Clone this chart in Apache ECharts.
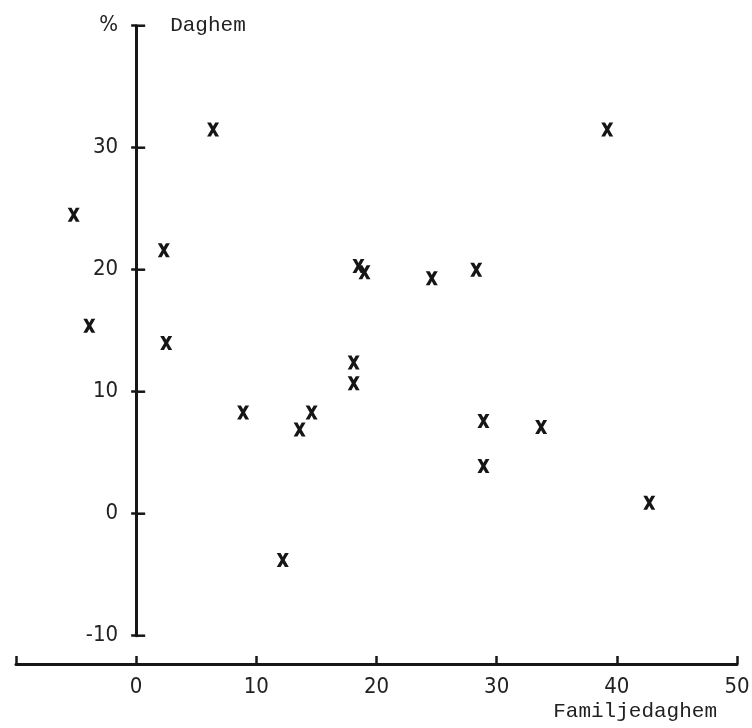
<!DOCTYPE html>
<html>
<head>
<meta charset="utf-8">
<script src="https://cdn.jsdelivr.net/npm/echarts@6/dist/echarts.min.js"></script>
<style>
html,body{margin:0;padding:0;background:#fff;}
#chart{width:752px;height:728px;}
</style>
</head>
<body>
<div id="chart"></div>
<script>
// Familjedaghem (x, %) vs Daghem (y, %)
const familjedaghem = [-5.2, -3.9, 2.3, 2.5, 6.4, 8.9, 12.2, 13.6, 14.6, 18.1, 18.1, 18.5, 19.0, 24.6, 28.3, 28.9, 28.9, 33.7, 39.2, 42.7];
const daghem        = [24.5, 15.4, 21.6, 14.0, 31.5, 8.3, -3.8, 6.9, 8.3, 12.4, 10.7, 20.3, 19.8, 19.3, 20.0, 7.6, 3.9, 7.1, 31.5, 0.9];
const xTicks = [-10, 0, 10, 20, 30, 40, 50];
const yTicks = [-10, 0, 10, 20, 30, 40];
const xTitle = 'Familjedaghem';
const yTitle = 'Daghem';
const yUnit = '%';

const points = familjedaghem.map((x, i) => [x, daghem[i]]);
const ink = '#161616';
const numFont = "'Liberation Sans Narrow', 'DejaVu Sans Condensed', 'Roboto Condensed', sans-serif";
const monoFont = "'Liberation Mono', 'DejaVu Sans Mono', monospace";
const xSymbol = 'path://M0,0 L32,0 L50,36 L68,0 L100,0 L66,65 L100,130 L68,130 L50,94 L32,130 L0,130 L34,65 Z';

const W = 752, gridLeft = 16, gridRight = 15;
const gridW = W - gridLeft - gridRight;
const xMin = xTicks[0], xMax = xTicks[xTicks.length - 1];
const yMin = yTicks[0], yMax = yTicks[yTicks.length - 1];
// pixel distance from the grid's left edge to x = 0
const zeroPx = ((0 - xMin) / (xMax - xMin)) * gridW;

const chart = echarts.init(document.getElementById('chart'), null, {renderer: 'canvas'});
chart.setOption({
  backgroundColor: '#ffffff',
  animation: false,
  tooltip: {show: false},
  grid: {left: gridLeft, right: gridRight, top: 25.7, bottom: 92.3, containLabel: false, outerBoundsMode: 'none'},
  xAxis: {
    type: 'value',
    min: xMin, max: xMax, interval: 10,
    offset: 28.3,
    splitLine: {show: false},
    axisLine: {show: true, onZero: false, lineStyle: {color: ink, width: 3}},
    axisTick: {show: true, inside: true, length: 8, lineStyle: {color: ink, width: 2.5}},
    axisLabel: {
      show: true, margin: 12, color: '#222', fontFamily: numFont, fontSize: 22,
      showMinLabel: true, showMaxLabel: true,
      formatter: v => (v === xMin ? '' : String(v))
    },
    name: xTitle,
    nameLocation: 'end',
    nameGap: 0,
    nameMoveOverlap: false,
    nameTextStyle: {
      color: '#222', fontFamily: monoFont, fontSize: 21,
      align: 'right', verticalAlign: 'top', padding: [37, 20, 0, 0]
    }
  },
  yAxis: {
    type: 'value',
    position: 'left',
    offset: -zeroPx,
    min: yMin, max: yMax, interval: 10,
    splitLine: {show: false},
    axisLine: {show: true, onZero: false, lineStyle: {color: ink, width: 3}},
    axisTick: {show: true, inside: false, length: 5, lineStyle: {color: ink, width: 2.5}},
    axisLabel: {
      show: true, margin: 18, color: '#222', fontFamily: numFont, fontSize: 22,
      showMinLabel: true, showMaxLabel: true,
      formatter: v => (v === yMax ? yUnit : String(v))
    },
    name: yTitle,
    nameLocation: 'end',
    nameGap: 0,
    nameMoveOverlap: false,
    nameTextStyle: {
      color: '#222', fontFamily: monoFont, fontSize: 21,
      align: 'left', verticalAlign: 'middle', padding: [0, 0, 0, 34]
    }
  },
  series: [{
    type: 'scatter',
    data: points,
    symbol: xSymbol,
    symbolSize: [12, 14],
    itemStyle: {color: ink, opacity: 1}
  }, {
    // right-hand half of the y-axis ticks, which cross the axis line
    type: 'custom',
    silent: true,
    clip: false,
    data: yTicks.map(v => [0, v]),
    renderItem: (params, api) => {
      const p = api.coord([api.value(0), api.value(1)]);
      return {
        type: 'line',
        shape: {x1: p[0], y1: p[1], x2: p[0] + 9, y2: p[1]},
        style: {stroke: ink, lineWidth: 2.5}
      };
    }
  }]
});
</script>
</body>
</html>
